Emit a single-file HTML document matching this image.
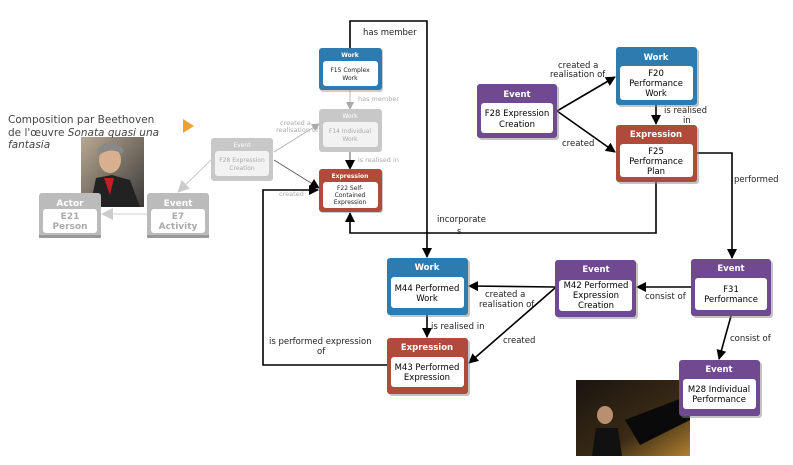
<!DOCTYPE html>
<html><head><meta charset="utf-8"><style>
html,body{margin:0;padding:0;background:#fff;}
svg{display:block;font-family:"DejaVu Sans","Liberation Sans",sans-serif;}
</style></head><body>
<svg width="793" height="465" viewBox="0 0 793 465" xmlns="http://www.w3.org/2000/svg">
<defs>
<marker id="ab" markerWidth="10" markerHeight="10" refX="9" refY="5" orient="auto" markerUnits="userSpaceOnUse"><path d="M0,0 L10,5 L0,10 z" fill="#000"/></marker>
<marker id="ag" markerWidth="8" markerHeight="8" refX="7" refY="4" orient="auto" markerUnits="userSpaceOnUse"><path d="M0,0 L8,4 L0,8 z" fill="#aaa"/></marker>
<marker id="ag2" markerWidth="12" markerHeight="12" refX="11" refY="6" orient="auto" markerUnits="userSpaceOnUse"><path d="M0,0 L12,6 L0,12 z" fill="#ccc"/></marker>
<linearGradient id="bg1" x1="0" y1="0" x2="1" y2="1"><stop offset="0" stop-color="#b8a890"/><stop offset="1" stop-color="#3a3a3a"/></linearGradient>
<linearGradient id="pg" x1="0" y1="0" x2="1" y2="1"><stop offset="0" stop-color="#1a1510"/><stop offset="0.6" stop-color="#3a2a15"/><stop offset="1" stop-color="#b08030"/></linearGradient>
</defs>

<!-- images -->
<rect x="81" y="137" width="63" height="70" fill="url(#bg1)"/>
<ellipse cx="110" cy="160" rx="11" ry="13" fill="#d8b090"/>
<path d="M97,150 Q110,135 124,150 L122,154 Q110,146 98,156z" fill="#888"/>
<path d="M90,207 L96,178 L112,175 L130,180 L140,207z" fill="#222"/>
<path d="M104,178 L114,178 L110,195z" fill="#c02020"/>
<rect x="576" y="380" width="114" height="76" fill="url(#pg)"/>
<ellipse cx="605" cy="415" rx="8" ry="9" fill="#b89070"/>
<path d="M592,456 L596,428 L618,428 L622,456z" fill="#111"/>
<path d="M625,420 L690,395 L690,420 L640,445z" fill="#0a0a0a"/>

<!-- title -->
<text x="8" y="123" font-size="10.5" fill="#444">Composition par Beethoven</text>
<text x="8" y="136" font-size="10.5" fill="#444">de l'œuvre <tspan font-style="italic">Sonata quasi una</tspan></text>
<text x="8" y="148" font-size="10.5" fill="#444" font-style="italic">fantasia</text>
<path d="M183,119 L194,126 L183,133z" fill="#f0a030"/>

<!-- grey connectors -->
<line x1="274" y1="152" x2="319" y2="124" stroke="#aaa" stroke-width="0.8" marker-end="url(#ag)"/>
<line x1="274" y1="160" x2="319" y2="188" stroke="#555" stroke-width="0.8" marker-end="url(#ab)"/>
<line x1="211" y1="160" x2="178" y2="192" stroke="#ccc" stroke-width="1" marker-end="url(#ag2)"/>
<line x1="147" y1="214" x2="102" y2="214" stroke="#ccc" stroke-width="1" marker-end="url(#ag2)"/>
<line x1="350" y1="90" x2="350" y2="109" stroke="#aaa" stroke-width="0.8" marker-end="url(#ag)"/>
<line x1="350" y1="152" x2="350" y2="169" stroke="#333" stroke-width="0.8" marker-end="url(#ab)"/>
<g font-size="6.5" fill="#aaa">
<text x="358" y="101">has member</text>
<text x="358" y="162">is realised in</text>
<text x="280" y="125">created a</text>
<text x="276" y="132">realisation of</text>
<text x="279" y="196">created</text>
</g>

<!-- black connectors -->
<g stroke="#000" stroke-width="1.6" fill="none">
<polyline points="350,48 350,21 427,21 427,257" marker-end="url(#ab)"/>
<polyline points="656,182 656,233 350,233 350,213" marker-end="url(#ab)"/>
<polyline points="697,153 732,153 732,258" marker-end="url(#ab)"/>
<polyline points="387,365 263,365 263,190 318,190" marker-end="url(#ab)"/>
<line x1="557" y1="111" x2="615" y2="77" marker-end="url(#ab)"/>
<line x1="557" y1="111" x2="615" y2="152" marker-end="url(#ab)"/>
<line x1="656" y1="105" x2="656" y2="124" marker-end="url(#ab)"/>
<line x1="691" y1="287" x2="637" y2="287" marker-end="url(#ab)"/>
<line x1="555" y1="287" x2="469" y2="286" marker-end="url(#ab)"/>
<line x1="555" y1="288" x2="469" y2="363" marker-end="url(#ab)"/>
<line x1="427" y1="315" x2="427" y2="337" marker-end="url(#ab)"/>
<line x1="731" y1="316" x2="719" y2="359" marker-end="url(#ab)"/>
</g>
<g font-size="8.5" fill="#222">
<text x="363" y="35">has member</text>
<text x="437" y="222">incorporate</text>
<text x="457" y="234">s</text>
<text x="734" y="182">performed</text>
<text x="558" y="68">created a</text>
<text x="550" y="77">realisation of</text>
<text x="562" y="146">created</text>
<text x="664" y="113">is realised</text>
<text x="683" y="123">in</text>
<text x="645" y="299">consist of</text>
<text x="485" y="297">created a</text>
<text x="479" y="307">realisation of</text>
<text x="503" y="343">created</text>
<text x="431" y="329">is realised in</text>
<text x="269" y="344">is performed expression</text>
<text x="317" y="354">of</text>
<text x="730" y="341">consist of</text>
</g>

<!-- node template -->
<g font-size="6">
<!-- F15 -->
<rect x="320" y="49" width="63" height="43" rx="3" fill="#999" opacity="0.5"/>
<rect x="319" y="48" width="63" height="42" rx="3" fill="#2e7bb0"/>
<text x="350" y="57" text-anchor="middle" fill="#fff" font-weight="bold">Work</text>
<rect x="323" y="61" width="55" height="25" rx="3" fill="#fff"/>
<text x="350" y="72" text-anchor="middle" fill="#222">F15 Complex</text><text x="350" y="80" text-anchor="middle" fill="#222">Work</text>
<!-- F14 -->
<rect x="319" y="109" width="63" height="43" rx="3" fill="#c8c8c8"/>
<text x="350" y="118" text-anchor="middle" fill="#fff">Work</text>
<rect x="323" y="122" width="55" height="25" rx="3" fill="#f2f2f2"/>
<text x="350" y="133" text-anchor="middle" fill="#aaa">F14 Individual</text><text x="350" y="141" text-anchor="middle" fill="#aaa">Work</text>
<!-- F22 -->
<rect x="320" y="170" width="63" height="43" rx="3" fill="#999" opacity="0.5"/>
<rect x="319" y="169" width="63" height="43" rx="3" fill="#b04a3a"/>
<text x="350" y="178" text-anchor="middle" fill="#fff" font-weight="bold">Expression</text>
<rect x="323" y="182" width="55" height="26" rx="3" fill="#fff"/>
<text x="350" y="190" text-anchor="middle" fill="#222">F22 Self-</text><text x="350" y="197" text-anchor="middle" fill="#222">Contained</text><text x="350" y="204" text-anchor="middle" fill="#222">Expression</text>
<!-- grey F28 -->
<rect x="211" y="138" width="62" height="43" rx="3" fill="#c8c8c8"/>
<text x="242" y="147" text-anchor="middle" fill="#fff">Event</text>
<rect x="215" y="151" width="54" height="25" rx="3" fill="#f2f2f2"/>
<text x="242" y="162" text-anchor="middle" fill="#aaa">F28 Expression</text><text x="242" y="170" text-anchor="middle" fill="#aaa">Creation</text>
</g>
<g font-size="9" font-weight="bold">
<!-- E21 -->
<rect x="39" y="193" width="62" height="44" rx="3" fill="#bbb"/>
<rect x="39" y="235" width="62" height="3" fill="#999"/>
<text x="70" y="206" text-anchor="middle" fill="#fff">Actor</text>
<rect x="43" y="209" width="54" height="24" rx="3" fill="#fff"/>
<text x="70" y="219" text-anchor="middle" fill="#aaa">E21</text><text x="70" y="229" text-anchor="middle" fill="#aaa">Person</text>
<!-- E7 -->
<rect x="147" y="193" width="62" height="44" rx="3" fill="#bbb"/>
<rect x="147" y="235" width="62" height="3" fill="#999"/>
<text x="178" y="206" text-anchor="middle" fill="#fff">Event</text>
<rect x="151" y="209" width="54" height="24" rx="3" fill="#fff"/>
<text x="178" y="219" text-anchor="middle" fill="#aaa">E7</text><text x="178" y="229" text-anchor="middle" fill="#aaa">Activity</text>
</g>

<!-- big nodes -->
<g font-size="8.5">
<g>
<rect x="479" y="86" width="80" height="54" rx="3" fill="#888" opacity="0.5"/>
<rect x="477" y="84" width="80" height="54" rx="3" fill="#6f4a90"/>
<text x="517" y="97" text-anchor="middle" fill="#fff" font-weight="bold">Event</text>
<rect x="481" y="103" width="72" height="30" rx="3" fill="#fff"/>
<text x="517" y="116" text-anchor="middle">F28 Expression</text><text x="517" y="127" text-anchor="middle">Creation</text>
</g>
<g>
<rect x="618" y="49" width="81" height="58" rx="3" fill="#888" opacity="0.5"/>
<rect x="616" y="47" width="81" height="58" rx="3" fill="#2e7bb0"/>
<text x="656" y="60" text-anchor="middle" fill="#fff" font-weight="bold">Work</text>
<rect x="620" y="66" width="73" height="34" rx="3" fill="#fff"/>
<text x="656" y="76" text-anchor="middle">F20</text><text x="656" y="86" text-anchor="middle">Performance</text><text x="656" y="96" text-anchor="middle">Work</text>
</g>
<g>
<rect x="618" y="127" width="81" height="57" rx="3" fill="#888" opacity="0.5"/>
<rect x="616" y="125" width="81" height="57" rx="3" fill="#b04a3a"/>
<text x="656" y="137" text-anchor="middle" fill="#fff" font-weight="bold">Expression</text>
<rect x="620" y="144" width="73" height="33" rx="3" fill="#fff"/>
<text x="656" y="154" text-anchor="middle">F25</text><text x="656" y="164" text-anchor="middle">Performance</text><text x="656" y="174" text-anchor="middle">Plan</text>
</g>
<g>
<rect x="693" y="261" width="80" height="57" rx="3" fill="#888" opacity="0.5"/>
<rect x="691" y="259" width="80" height="57" rx="3" fill="#6f4a90"/>
<text x="731" y="271" text-anchor="middle" fill="#fff" font-weight="bold">Event</text>
<rect x="695" y="278" width="72" height="32" rx="3" fill="#fff"/>
<text x="731" y="292" text-anchor="middle">F31</text><text x="731" y="302" text-anchor="middle">Performance</text>
</g>
<g>
<rect x="557" y="262" width="81" height="57" rx="3" fill="#888" opacity="0.5"/>
<rect x="555" y="260" width="81" height="57" rx="3" fill="#6f4a90"/>
<text x="596" y="272" text-anchor="middle" fill="#fff" font-weight="bold">Event</text>
<rect x="559" y="280" width="73" height="31" rx="3" fill="#fff"/>
<text x="596" y="288" text-anchor="middle">M42 Performed</text><text x="596" y="298" text-anchor="middle">Expression</text><text x="596" y="308" text-anchor="middle">Creation</text>
</g>
<g>
<rect x="389" y="260" width="81" height="57" rx="3" fill="#888" opacity="0.5"/>
<rect x="387" y="258" width="81" height="57" rx="3" fill="#2e7bb0"/>
<text x="427" y="270" text-anchor="middle" fill="#fff" font-weight="bold">Work</text>
<rect x="391" y="277" width="73" height="31" rx="3" fill="#fff"/>
<text x="427" y="291" text-anchor="middle">M44 Performed</text><text x="427" y="301" text-anchor="middle">Work</text>
</g>
<g>
<rect x="389" y="340" width="81" height="56" rx="3" fill="#888" opacity="0.5"/>
<rect x="387" y="338" width="81" height="56" rx="3" fill="#b04a3a"/>
<text x="427" y="350" text-anchor="middle" fill="#fff" font-weight="bold">Expression</text>
<rect x="391" y="357" width="73" height="30" rx="3" fill="#fff"/>
<text x="427" y="370" text-anchor="middle">M43 Performed</text><text x="427" y="380" text-anchor="middle">Expression</text>
</g>
<g>
<rect x="681" y="362" width="81" height="56" rx="3" fill="#888" opacity="0.5"/>
<rect x="679" y="360" width="81" height="56" rx="3" fill="#6f4a90"/>
<text x="719" y="372" text-anchor="middle" fill="#fff" font-weight="bold">Event</text>
<rect x="683" y="379" width="73" height="30" rx="3" fill="#fff"/>
<text x="719" y="392" text-anchor="middle">M28 Individual</text><text x="719" y="402" text-anchor="middle">Performance</text>
</g>
</g>
</svg>
</body></html>
